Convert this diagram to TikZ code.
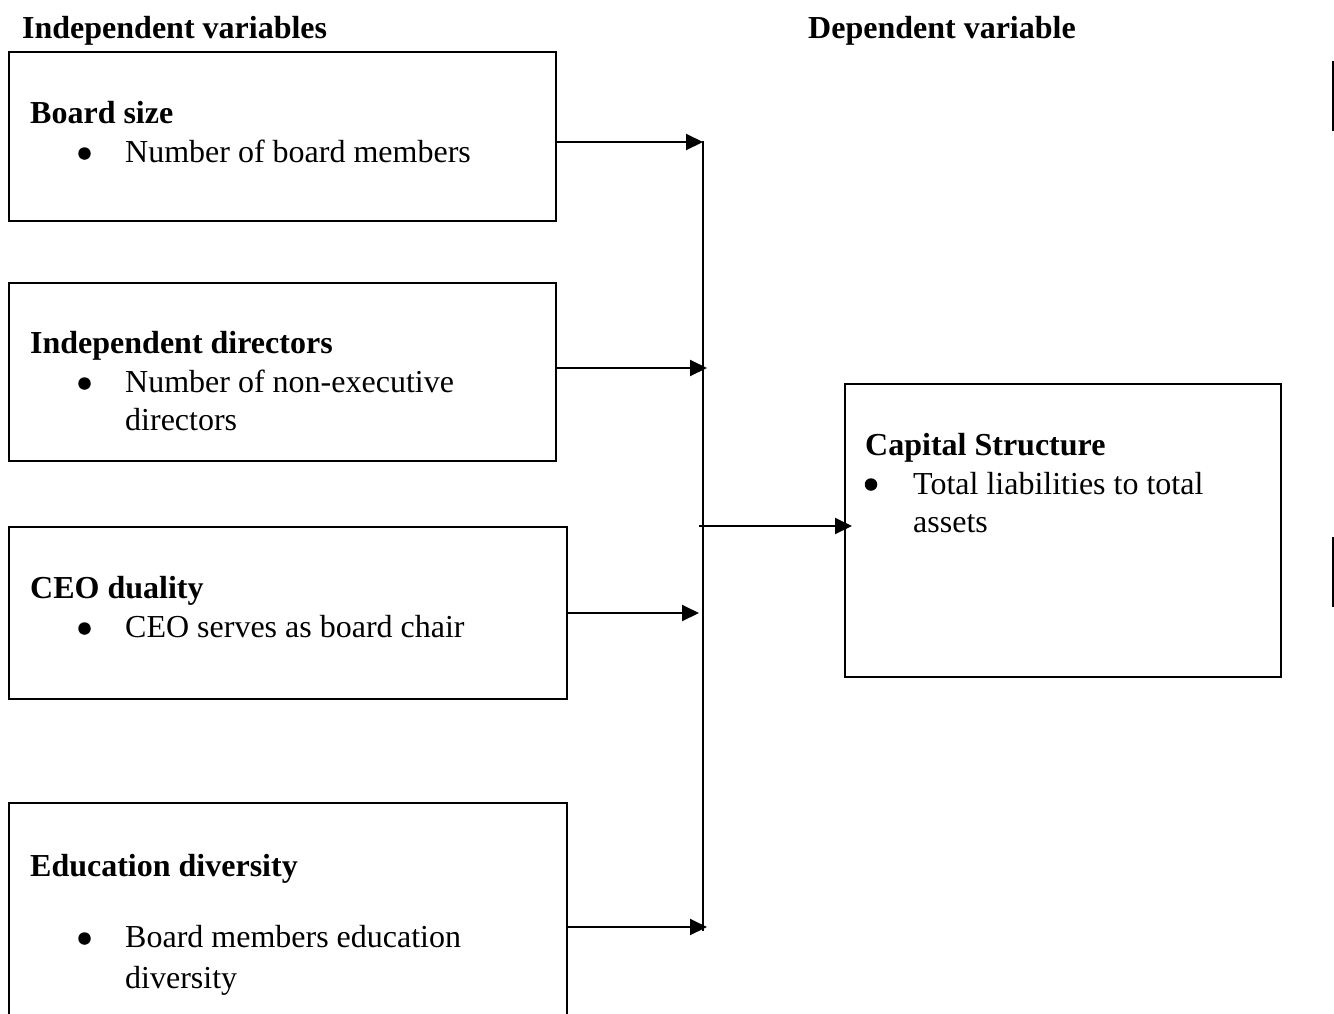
\documentclass[tikz,border=0pt]{standalone}
\usepackage{fontspec}
\setmainfont{Liberation Serif}
\usetikzlibrary{arrows.meta}
\begin{document}
\begin{tikzpicture}[x=1pt,y=-1pt,
  box/.style={draw, line width=2pt, anchor=north west, inner sep=0pt},
  txt/.style={anchor=base west, inner sep=0pt, font=\fontsize{32}{38}\selectfont},
  hd/.style={txt, font=\fontsize{32}{38}\selectfont\bfseries},
  bul/.style={circle, fill=black, minimum size=12.5pt, inner sep=0pt},
  conn/.style={line width=2pt, -{Triangle[length=17pt,width=16pt]}},
  bus/.style={line width=2pt}
]
\useasboundingbox (0,0) rectangle (1334,1013);
\begin{scope}
\clip (0,0) rectangle (1334,1013);
% boxes
\node[box, minimum width=547pt, minimum height=169pt] (b1) at (8,51) {};
\node[box, minimum width=547pt, minimum height=178pt] (b2) at (8,282) {};
\node[box, minimum width=558pt, minimum height=172pt] (b3) at (8,526) {};
\node[box, minimum width=558pt, minimum height=240pt] (b4) at (8,802) {};
\node[box, minimum width=436pt, minimum height=293pt] (cs) at (844,383) {};
\end{scope}
% headers
\node[hd] (h1) at (22,38) {Independent variables};
\node[hd] (h2) at (808,38) {Dependent variable};
% box 1
\node[hd] (t1) at (30,123) {Board size};
\node[bul] (u1) at (84.5,153.5) {};
\node[txt] (s1) at (125,162) {Number of board members};
% box 2
\node[hd] (t2) at (30,353) {Independent directors};
\node[bul] (u2) at (84.5,383.5) {};
\node[txt] (s2a) at (125,392) {Number of non-executive};
\node[txt] (s2b) at (125,430) {directors};
% box 3
\node[hd] (t3) at (30,598) {CEO duality};
\node[bul] (u3) at (84.5,628.5) {};
\node[txt] (s3) at (125,637) {CEO serves as board chair};
% box 4
\node[hd] (t4) at (30,876) {Education diversity};
\node[bul] (u4) at (84.5,938.5) {};
\node[txt] (s4a) at (125,947) {Board members education};
\node[txt] (s4b) at (125,988) {diversity};
% capital structure
\node[hd] (t5) at (865,455) {Capital Structure};
\node[bul] (u5) at (871,484.5) {};
\node[txt] (s5a) at (913,494) {Total liabilities to total};
\node[txt] (s5b) at (913,532) {assets};
% bus
\coordinate (bt) at (703,141);
\coordinate (bb) at (703,931);
\draw[bus] (bt) -- (bb);
\coordinate (a1) at (703,142);
\coordinate (a2) at (707,368);
\coordinate (a3) at (699,613);
\coordinate (a4) at (707,927);
\draw[conn] (b1.east |- a1) -- (a1);
\draw[conn] (b2.east |- a2) -- (a2);
\draw[conn] (b3.east |- a3) -- (a3);
\draw[conn] (b4.east |- a4) -- (a4);
\coordinate (c0) at (699,526);
\coordinate (c1) at (852,526);
\draw[conn] (c0) -- (c1);
% edge marks
\coordinate (m1) at (1333,61);
\coordinate (m2) at (1333,131);
\coordinate (m3) at (1333,537);
\coordinate (m4) at (1333,607);
\draw[line width=2.5pt] (m1) -- (m2);
\draw[line width=2.5pt] (m3) -- (m4);
\end{tikzpicture}
\end{document}
